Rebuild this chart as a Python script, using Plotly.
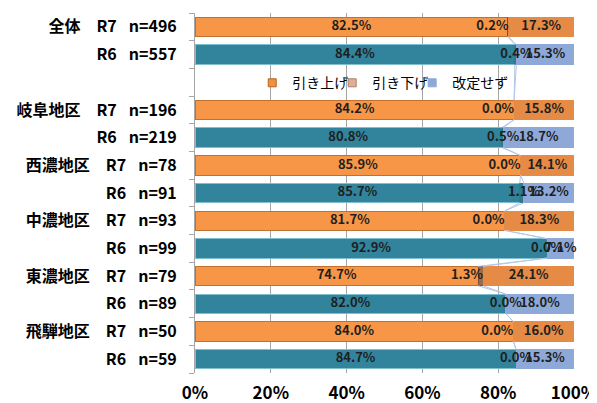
import plotly.graph_objects as go

regions = ["全体", "岐阜地区", "西濃地区", "中濃地区", "東濃地区", "飛騨地区"]
n_r7 = [496, 196, 78, 93, 79, 50]
n_r6 = [557, 219, 91, 99, 89, 59]
up_r7 = [82.5, 84.2, 85.9, 81.7, 74.7, 84.0]
up_r6 = [84.4, 80.8, 85.7, 92.9, 82.0, 84.7]
down_r7 = [0.2, 0.0, 0.0, 0.0, 1.3, 0.0]
down_r6 = [0.4, 0.5, 1.1, 0.0, 0.0, 0.0]
none_r7 = [17.3, 15.8, 14.1, 18.3, 24.1, 16.0]
none_r6 = [15.3, 18.7, 13.2, 7.1, 18.0, 15.3]
series_names = ["引き上げ", "引き下げ", "改定せず"]
x_ticks = [0, 20, 40, 60, 80, 100]

# build rows (top to bottom), with an empty row after 全体 for the legend
pos, labels, up, down, none, kind = [], [], [], [], [], []
p = 0
for i, r in enumerate(regions):
    for yr, n, u, d, nn in (("R7", n_r7[i], up_r7[i], down_r7[i], none_r7[i]),
                            ("R6", n_r6[i], up_r6[i], down_r6[i], none_r6[i])):
        if yr == "R7":
            labels.append(f"{r}\u2002\u2002{yr}\u2002\u2005n={n}")
        else:
            labels.append(f"{yr}\u2002\u2005n={n}")
        pos.append(p)
        up.append(u); down.append(d); none.append(nn); kind.append(yr)
        p += 1
    if i == 0:
        p += 1  # gap row

col = {
    "R7": ["#F79646", "#9C6B4A", "#E58B45"],
    "R6": ["#31849B", "#2E7A8F", "#8EA9D8"],
}
line_col = {
    "R7": ["#C0702F", "#7A4F33", "#E58B45"],
    "R6": ["#7FBFD0", "#2E7A8F", "#8EA9D8"],
}
legend_col = ["#F0913F", "#DDB096", "#8EA9D8"]
legend_line = ["#B86425", "#A8806A", "#8EA9D8"]

font_family = "Noto Sans CJK JP"
bargap = 0.3
fig = go.Figure()

for si, vals in enumerate([up, down, none]):
    fig.add_trace(go.Bar(
        x=vals, y=pos, orientation="h", showlegend=False,
        marker=dict(color=[col[k][si] for k in kind],
                    line=dict(color=[line_col[k][si] for k in kind], width=1)),
        textposition="none", hoverinfo="x",
    ))

# series lines connecting bars
half = (1 - bargap) / 2
for cum in ([u for u in up], [u + d for u, d in zip(up, down)]):
    xs, ys = [], []
    for i in range(len(pos) - 1):
        xs += [cum[i], cum[i + 1], None]
        ys += [pos[i] + half, pos[i + 1] - half, None]
    fig.add_trace(go.Scatter(x=xs, y=ys, mode="lines", showlegend=False,
                             line=dict(color="#B4C7E7", width=1), hoverinfo="skip"))

# data labels (drawn above all bars)
lab_font = dict(family=font_family, size=13, color="#1F1F1F", weight="bold")
fig.add_trace(go.Scatter(x=[u / 2 for u in up], y=pos, mode="text",
                         text=[f"{v:.1f}%" for v in up], textposition="middle center",
                         textfont=lab_font, showlegend=False, hoverinfo="skip", cliponaxis=False))
fig.add_trace(go.Scatter(x=[u + d for u, d in zip(up, down)], y=pos, mode="text",
                         text=[f"{v:.1f}%" for v in down],
                         textposition=["middle left" if k == "R7" else "middle center" for k in kind],
                         textfont=lab_font, showlegend=False, hoverinfo="skip", cliponaxis=False))
fig.add_trace(go.Scatter(x=[u + d + nn / 2 for u, d, nn in zip(up, down, none)], y=pos, mode="text",
                         text=[f"{v:.1f}%" for v in none], textposition="middle center",
                         textfont=lab_font, showlegend=False, hoverinfo="skip", cliponaxis=False))

# legend entries (one small legend per series so spacing can match)
legend_ids = ["legend", "legend2", "legend3"]
for si, nm in enumerate(series_names):
    fig.add_trace(go.Scatter(x=[None], y=[None], mode="markers", name=nm,
                             legend=legend_ids[si],
                             marker=dict(symbol="square", size=8, color=legend_col[si],
                                         line=dict(color=legend_line[si], width=1))))

leg_common = dict(orientation="h", y=0.805, yanchor="middle", xanchor="left",
                  bgcolor="rgba(0,0,0,0)", font=dict(size=14, weight="normal"),
                  itemwidth=30)
leg_x = [0.151, 0.362, 0.573]

boundaries = [q - 0.5 for q in range(p + 1)]
# page body has an 8px default margin, so the figure is sized/offset to compensate
fig.update_layout(
    barmode="stack", bargap=bargap,
    width=589, height=395,
    margin=dict(l=187, r=23, t=5, b=30, autoexpand=False),
    paper_bgcolor="white", plot_bgcolor="white",
    font=dict(family=font_family, size=14, color="#000000", weight="bold"),
    legend=dict(x=leg_x[0], **leg_common),
    legend2=dict(x=leg_x[1], **leg_common),
    legend3=dict(x=leg_x[2], **leg_common),
    xaxis=dict(range=[0, 100], tickvals=x_ticks, ticktext=[f"{v}%" for v in x_ticks],
               showgrid=True, gridcolor="#A6A6A6", gridwidth=1, zeroline=False,
               showline=False, ticks="", tickfont=dict(size=17, weight="bold"),
               ticklabelstandoff=8, automargin=False, ticklabeloverflow="allow"),
    yaxis=dict(range=[p - 0.5, -0.5], tickvals=pos, ticktext=labels, ticks="",
               showgrid=False, zeroline=False, showline=True, linecolor="#A6A6A6",
               tickfont=dict(size=16, weight="bold"), ticklabelstandoff=14,
               automargin=False,
               minor=dict(tickvals=boundaries, ticks="outside", ticklen=5,
                          tickcolor="#A6A6A6", showgrid=False)),
)

fig.write_html("out.html")
